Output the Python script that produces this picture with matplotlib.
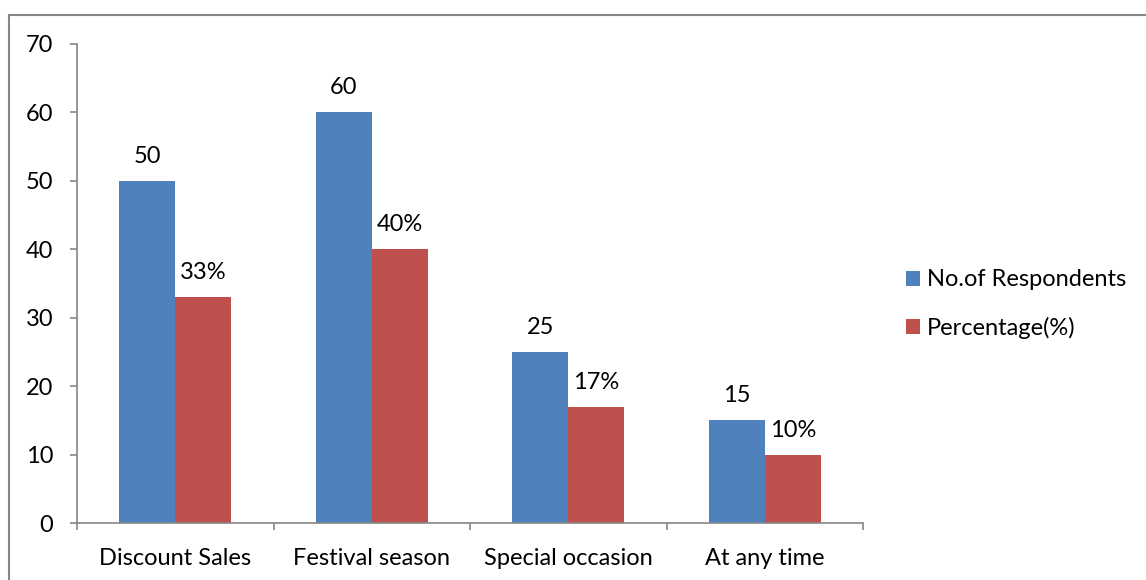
import numpy as np
import matplotlib
matplotlib.use("Agg")
import matplotlib.pyplot as plt
from matplotlib.lines import Line2D

plt.rcParams['font.family'] = ['Lato', 'DejaVu Sans']

categories = ['Discount Sales', 'Festival season', 'Special occasion', 'At any time']
respondents = [50, 60, 25, 15]
percentage = [33, 40, 17, 10]
series_names = ['No.of Respondents', 'Percentage(%)']
yticks = [0, 10, 20, 30, 40, 50, 60, 70]

blue = '#4F81BD'
red = '#C0504D'
axis_gray = '#868686'
fs = 17

W, H = 1146, 580
fig = plt.figure(figsize=(W / 100, H / 100), dpi=100)
ax = fig.add_axes([77 / W, 1 - 523 / H, (863 - 77) / W, (523 - 44) / H])

x = np.arange(len(categories))
bw = 0.285
b1 = ax.bar(x - bw / 2, respondents, bw, color=blue, label=series_names[0])
b2 = ax.bar(x + bw / 2, percentage, bw, color=red, label=series_names[1])

for rect, v in zip(b1, respondents):
    ax.annotate(str(v), (rect.get_x() + rect.get_width() / 2, v),
                xytext=(0, 13), textcoords='offset points',
                ha='center', va='baseline', fontsize=fs)
for rect, v in zip(b2, percentage):
    ax.annotate(f'{v}%', (rect.get_x() + rect.get_width() / 2, v),
                xytext=(0, 13), textcoords='offset points',
                ha='center', va='baseline', fontsize=fs)

ax.set_xlim(-0.5, len(categories) - 0.5)
ax.set_ylim(0, 70)
ax.set_yticks(yticks)
ax.set_xticks(x)
ax.set_xticklabels(categories)
ax.set_xticks(np.arange(len(categories) + 1) - 0.5, minor=True)
ax.tick_params(axis='x', which='major', length=0, pad=18, labelsize=fs)
ax.tick_params(axis='x', which='minor', length=5, width=1.2, color=axis_gray, direction='out')
ax.tick_params(axis='y', length=5, width=1.2, color=axis_gray, pad=12, labelsize=fs)

for s in ['top', 'right']:
    ax.spines[s].set_visible(False)
for s in ['left', 'bottom']:
    ax.spines[s].set_color(axis_gray)
    ax.spines[s].set_linewidth(1.2)

leg = fig.legend(handles=[b1, b2], labels=series_names, loc='center left',
                 bbox_to_anchor=(906 / W, 1 - 304 / H), frameon=False,
                 borderpad=0, borderaxespad=0,
                 fontsize=fs, handlelength=0.6, handleheight=0.6,
                 handletextpad=0.3, labelspacing=1.1)

# chart area border (top and left edges visible)
fig.add_artist(Line2D([9 / W, 1], [1 - 15 / H, 1 - 15 / H], color=axis_gray, lw=1.5))
fig.add_artist(Line2D([9 / W, 9 / W], [0, 1 - 15 / H], color=axis_gray, lw=1.5))

fig.savefig('out.png', dpi=100)
